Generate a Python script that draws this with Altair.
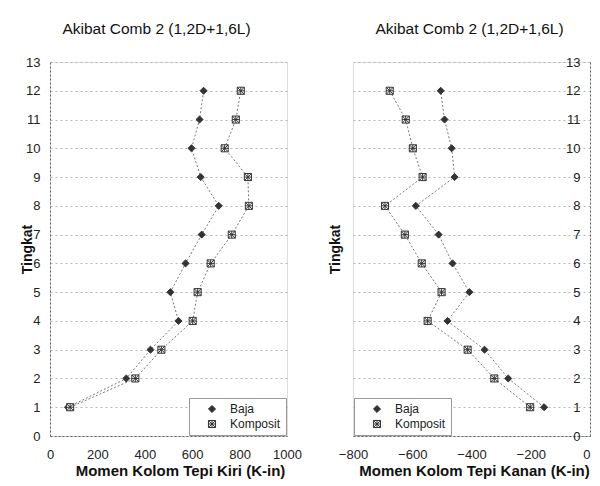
import altair as alt
import pandas as pd

# ---- data ----
levels = list(range(1, 13))
series = ["Baja", "Komposit"]

kiri_baja = [76, 322, 424, 542, 508, 572, 640, 712, 636, 597, 631, 648]
kiri_komposit = [85, 360, 470, 602, 623, 678, 767, 839, 835, 737, 784, 805]

kanan_baja = [-155, -276, -356, -481, -407, -464, -511, -588, -457, -467, -491, -504]
kanan_komposit = [-202, -323, -413, -548, -501, -568, -625, -692, -565, -598, -622, -676]

y_ticks = list(range(0, 14))
kiri_ticks = [0, 200, 400, 600, 800, 1000]
kanan_ticks = [-800, -600, -400, -200, 0]

chart_title = "Akibat Comb 2 (1,2D+1,6L)"
kiri_xtitle = "Momen Kolom Tepi Kiri (K-in)"
kanan_xtitle = "Momen Kolom Tepi Kanan (K-in)"
y_title = "Tingkat"


def long_df(baja, komposit):
    rows = []
    for s, vals in zip(series, [baja, komposit]):
        for lv, v in zip(levels, vals):
            rows.append({"Series": s, "Tingkat": lv, "Momen": v})
    return pd.DataFrame(rows)


W, H = 237, 374
FONT = "Liberation Sans"
KOMPOSIT_SHAPE = "M-1,-1H1V1H-1Z M-1,-1L1,1 M1,-1L-1,1 M0,-1V1 M-1,0H1"


def panel(df, domain, ticks, xtitle, xtitle_x, legend_orient, y_offset, title_x, title_dx, label_align):
    x = alt.X(
        "Momen:Q",
        scale=alt.Scale(domain=domain, nice=False, zero=False),
        axis=alt.Axis(
            values=ticks, format="d", title=xtitle, grid=False, ticks=False, tickSize=0,
            labelFlush=False, domainColor="#666", domainDash=[2, 2],
            labelFontSize=13, labelPadding=12, labelColor="#222", labelAlign=label_align,
            titleFontSize=15, titleFontWeight="bold", titlePadding=2, titleColor="#111",
            titleX=xtitle_x, titleAlign="center",
            labelFont=FONT, titleFont=FONT,
        ),
    )
    y = alt.Y(
        "Tingkat:Q",
        scale=alt.Scale(domain=[0, 13], nice=False, zero=False),
        axis=alt.Axis(
            values=y_ticks, title=y_title, grid=True, gridColor="#b5b5b5", gridDash=[2, 3],
            ticks=False, tickSize=0, domainColor="#666", domainDash=[2, 2],
            labelFontSize=13, labelPadding=10, labelColor="#222", labelAlign="right",
            labelFlush=False,
            offset=y_offset, titleX=title_x, titleY=H / 2, titleAngle=-90,
            titleBaseline="middle", titleFontSize=14, titleFontWeight="bold", titleColor="#111",
            labelFont=FONT, titleFont=FONT,
        ),
    )
    leg = alt.Legend(
        title=None, orient=legend_orient, offset=1, strokeColor="#999", fillColor="white",
        padding=5, labelFontSize=12, labelFont=FONT, labelColor="#222",
        symbolSize=50, rowPadding=3, symbolStrokeWidth=1, symbolOffset=12, labelOffset=12,
    )
    line = alt.Chart(df).mark_line(strokeDash=[2, 2], strokeWidth=1, color="#777").encode(
        x=x, y=y, detail="Series:N", order="Tingkat:Q"
    )
    pts = alt.Chart(df).mark_point(size=50, strokeWidth=1, opacity=1).encode(
        x=x, y=y,
        shape=alt.Shape("Series:N", scale=alt.Scale(domain=series, range=["diamond", KOMPOSIT_SHAPE]), legend=leg),
        fill=alt.Fill("Series:N", scale=alt.Scale(domain=series, range=["#333333", "#ffffff"]), legend=leg),
        stroke=alt.value("#333"),
    )
    return alt.layer(line, pts).properties(
        width=W, height=H,
        title=alt.TitleParams(chart_title, fontSize=15.5, fontWeight="normal", font=FONT,
                              color="#111", anchor="middle", frame="group", dx=title_dx, offset=19),
    )


left = panel(long_df(kiri_baja, kiri_komposit), [0, 1000], kiri_ticks, kiri_xtitle, 130,
             "bottom-right", 0, -23, -12, "center")
right = panel(long_df(kanan_baja, kanan_komposit), [-800, 0], kanan_ticks, kanan_xtitle, 121,
              "bottom-left", -W, -(W + 18), -2,
              {"condition": {"test": "datum.value == 0", "value": "right"}, "value": "center"})

chart = (
    alt.hconcat(left, right, spacing=66, bounds="flush")
    .resolve_scale(x="independent", shape="independent", fill="independent")
    .resolve_legend(shape="independent", fill="independent")
    .properties(padding={"left": 11, "top": 13, "right": 0, "bottom": 0})
    .configure_view(stroke=None)
    .configure(background="white")
)

chart.save("out.html", embed_options={"renderer": "svg", "actions": False})
